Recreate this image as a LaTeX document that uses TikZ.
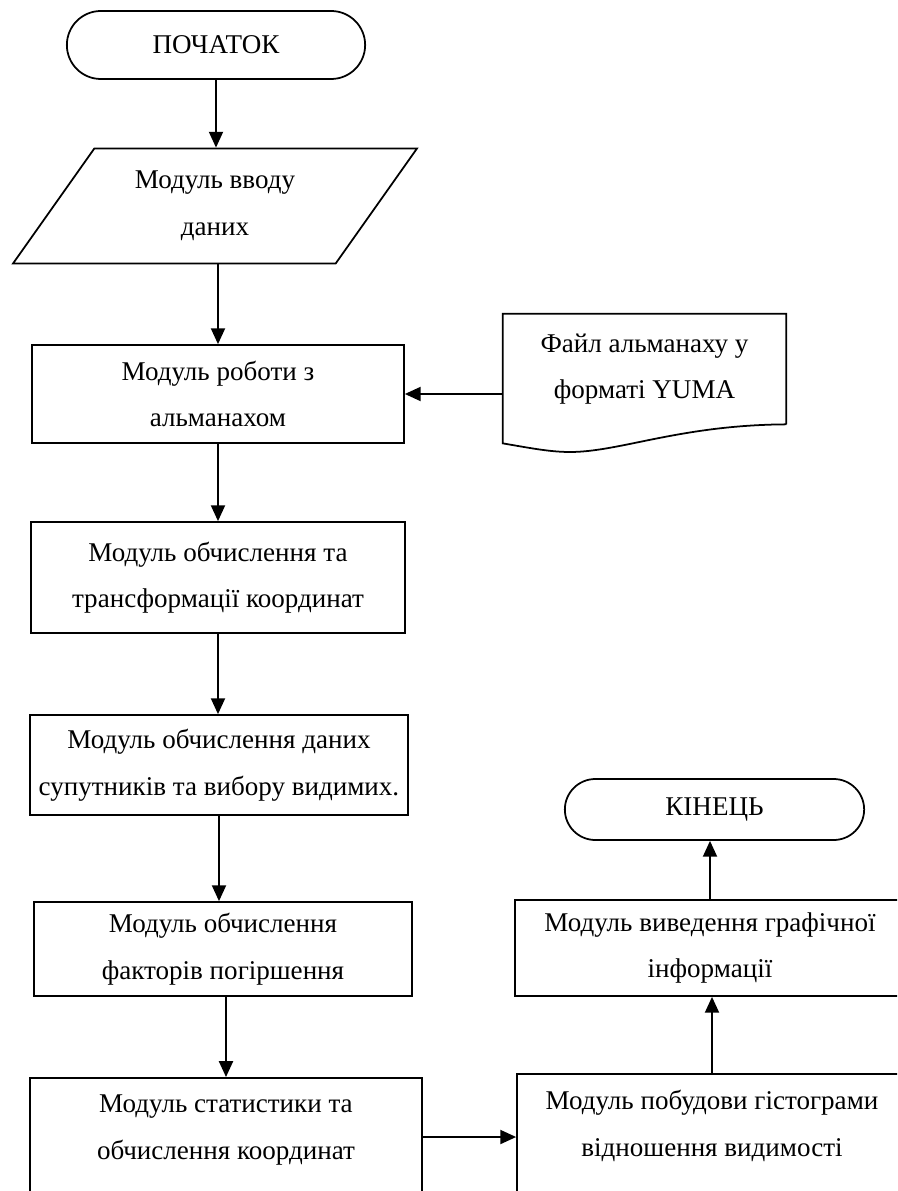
\documentclass[tikz,border=0pt]{standalone}
\usepackage{fontspec}
\setmainfont{Liberation Serif}
\usetikzlibrary{shapes.geometric,shapes.misc,arrows.meta,calc}

\begin{document}
\begin{tikzpicture}[
  >={Triangle[length=9pt,width=8pt]},
  block/.style={rectangle,draw=black,line width=1pt,align=center,
    font=\fontsize{15.4}{26.5}\selectfont},
  term/.style={rounded rectangle,draw=black,line width=1pt,align=center,
    font=\fontsize{15.4}{26.5}\selectfont},
  io/.style={trapezium,trapezium left angle=54.5,trapezium right angle=125.5,
    trapezium stretches=true,draw=black,line width=1pt,align=center,
    font=\fontsize{15.4}{26.5}\selectfont},
  doc/.style={rectangle,align=center,
    font=\fontsize{15.4}{26.5}\selectfont}]
  \useasboundingbox (0,0) rectangle (17.94,-23.82);
  \clip (0,0) rectangle (17.94,-23.82);
  % left column
  \node[term,minimum width=6.2cm,minimum height=1.36cm] (start) at (4.32,-0.9) {ПОЧАТОК};
  \node[io,minimum width=8.08cm,minimum height=2.3cm] (input) at (4.3,-4.12) {Модуль вводу\\даних};
  \node[block,minimum width=7.44cm,minimum height=1.96cm] (alm) at (4.36,-7.88) {Модуль роботи з\\альманахом};
  \node[block,minimum width=7.48cm,minimum height=2.22cm] (trans) at (4.36,-11.55) {Модуль обчислення та\\трансформації координат};
  \node[block,minimum width=7.56cm,minimum height=2.0cm] (sats) at (4.38,-15.3) {Модуль обчислення даних\\супутників та вибору видимих.};
  \node[block,minimum width=7.56cm,minimum height=1.88cm] (dop) at (4.46,-18.98) {Модуль обчислення\\факторів погіршення};
  \node[block,minimum width=7.84cm,text height=43pt,text depth=18pt,anchor=north] (stats) at (4.52,-21.54) {Модуль статистики та\\обчислення координат};
  % right column
  \node[doc,minimum width=5.66cm,minimum height=2.2cm] (yuma) at (12.89,-7.38) {Файл альманаху у\\форматі YUMA};
  \node[block,minimum width=7.8cm,text height=43.5pt,text depth=19pt,anchor=north] (hist) at (14.24,-21.46) {Модуль побудови гістограми\\відношення видимості};
  \node[block,minimum width=7.8cm,minimum height=1.92cm] (graph) at (14.2,-18.96) {Модуль виведення графічної\\інформації};
  \node[term,minimum width=6.22cm,minimum height=1.22cm] (finish) at (14.29,-16.19) {КІНЕЦЬ};
  % document outline
  \draw[line width=1pt] (yuma.south east) -- (yuma.north east) -- (yuma.north west)
    -- ($(yuma.south west)+(0,-0.38)$)
    .. controls (10.6,-8.96) and (11.0,-9.04) .. (11.4,-9.04)
    .. controls (12.4,-9.04) and (13.6,-8.5) .. (yuma.south east);
  % connectors
  \draw[line width=1pt,->] (start.south) -- (start.south |- input.north);
  \draw[line width=1pt,->] (input.south -| alm.north) -- (alm.north);
  \draw[line width=1pt,->] (yuma.west |- alm.east) -- (alm.east);
  \draw[line width=1pt,->] (alm.south) -- (alm.south -| trans.north) -- (trans.north);
  \draw[line width=1pt,->] (trans.south) -- (trans.south |- sats.north);
  \draw[line width=1pt,->] (sats.south) -- (sats.south |- dop.north);
  \draw[line width=1pt,->] (dop.south -| stats.north) -- (stats.north);
  \draw[line width=1pt,->] (stats.east |- 0,-22.74) -- (hist.west |- 0,-22.74);
  \draw[line width=1pt,->] (hist.north) -- (hist.north |- graph.south);
  \draw[line width=1pt,->] (graph.north) -- (graph.north |- finish.south);
\end{tikzpicture}
\end{document}
